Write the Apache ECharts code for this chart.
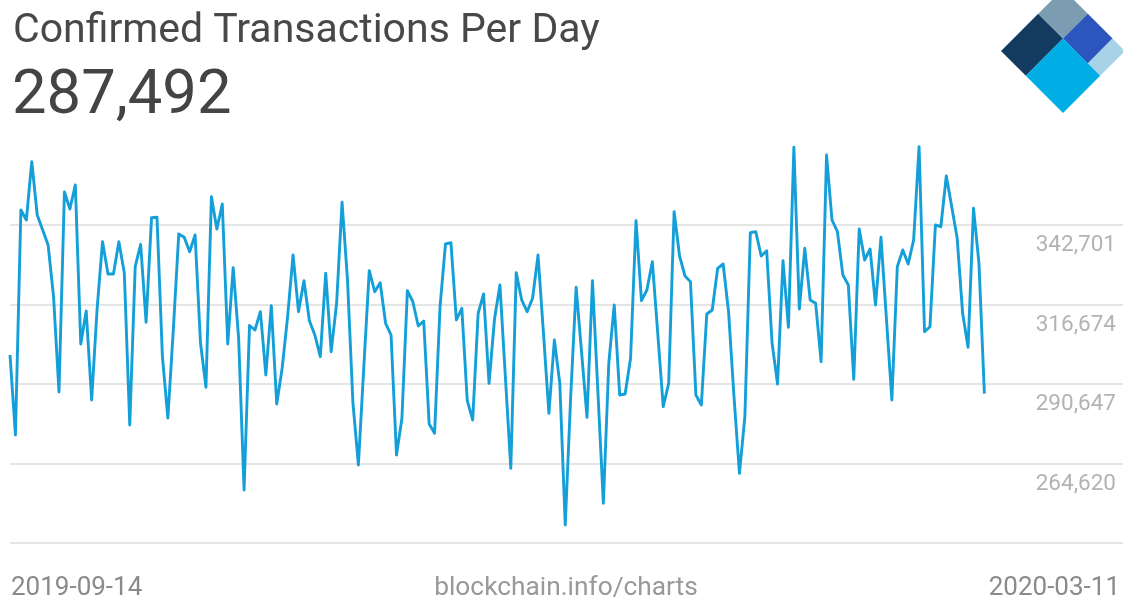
<!DOCTYPE html>
<html>
<head>
<meta charset="utf-8">
<script src="https://cdn.jsdelivr.net/npm/echarts@6/dist/echarts.min.js"></script>
<style>
html,body{margin:0;padding:0;background:#fff;}
#chart{width:1123px;height:601px;}
</style>
</head>
<body>
<div id="chart"></div>
<script>
// ---- Data ----
const titleText = 'Confirmed Transactions Per Day';
const latestValue = '287,492';
const startDate = '2019-09-14';
const endDate = '2020-03-11';
const sourceText = 'blockchain.info/charts';
// daily confirmed transactions, 2019-09-14 .. 2020-03-11 (180 days)
const values = [
  300142, 273951, 347612, 344338, 363424, 345975, 341064, 336153, 319228, 288029,
  353505, 347939, 355796, 303743, 314546, 285409, 315201, 337234, 326659, 326659,
  337234, 326987, 277225, 329049, 336383, 310847, 345091, 345222, 299585, 279517,
  308326, 339755, 338674, 333960, 339427, 303972, 289567, 351966, 341391, 349576,
  303743, 328722, 305609, 255945, 309799, 308326, 314317, 293594, 316281, 284100,
  295886, 312680, 332880, 314317, 324466, 311370, 306689, 299585, 326889, 301222,
  317067, 350133, 324695, 284427, 264130, 296311, 327740, 320865, 323811, 310519,
  306689, 267404, 279418, 321192, 317591, 309636, 311273, 277552, 274507, 315954,
  336481, 336906, 311600, 315430, 285180, 278862, 313793, 320112, 290877, 311829,
  323058, 293037, 263049, 327085, 318147, 314317, 318704, 332880, 307246, 281055,
  305052, 290877, 244487, 286490, 322305, 301026, 279746, 324466, 288029, 251591,
  297424, 316511, 287046, 287374, 299061, 344109, 317918, 321421, 330686, 307017,
  283216, 290877, 347055, 332552, 326005, 324139, 287046, 283773, 313564, 314874,
  328525, 329933, 314317, 286490, 261413, 279942, 340180, 340508, 332552, 334287,
  303972, 290648, 331014, 309210, 368138, 315201, 335073, 318147, 317067, 297948,
  365618, 344338, 340508, 326332, 323058, 292186, 341391, 331243, 334844, 316511,
  338674, 312026, 285409, 329049, 334516, 329933, 337790, 368335, 307770, 309406,
  342701, 342144, 358743, 348692, 338347, 313793, 302662, 348168, 330162, 287492
];
const yGridValues = [238593, 264620, 290647, 316674, 342701];
const yTickLabels = [264620, 290647, 316674, 342701];
const yMin = 238593;
const yMax = 368728;

// ---- Build ----
const DAY = 86400000;
const t0 = Date.UTC(2019, 8, 14);
const seriesData = values.map((v, i) => [t0 + i * DAY, v]);
const xMax = t0 + 204.46 * DAY;

// logo geometry (decoration)
const O = [1063, 51], R = 62;
function P(s, t) {
  return [O[0] - R + R * (s + t), O[1] + R * (t - s)];
}
function quad(s0, s1, ta, tb) {
  return [P(s0, ta), P(s1, ta), P(s1, tb), P(s0, tb)];
}
const logoPieces = [
  {shape: quad(0, 0.6, 0, 0.4), color: '#133b5f'},
  {shape: quad(0.6, 1, 0, 0.4), color: '#7b9cb1'},
  {shape: quad(0.6, 1, 0.4, 0.8), color: '#2c55be'},
  {shape: quad(0.6, 1, 0.8, 1), color: '#a8d3e6'},
  {shape: quad(0, 0.6, 0.4, 1), color: '#00ade5'}
];

const chart = echarts.init(document.getElementById('chart'), null, {renderer: 'canvas'});
const FONT = 'Roboto';
chart.setOption({
  animation: false,
  backgroundColor: '#ffffff',
  title: [
    {text: titleText, left: 8, top: 6,
     textStyle: {fontFamily: FONT, fontSize: 41, fontWeight: 'normal', color: '#484848'}},
    {text: latestValue, left: 7, top: 62,
     textStyle: {fontFamily: FONT, fontSize: 61.5, fontWeight: 'normal', color: '#444444'}}
  ],
  grid: {left: 10, right: 0, top: 145.5, bottom: 58, containLabel: false},
  xAxis: {
    type: 'time', min: t0, max: xMax,
    axisLine: {show: false}, axisTick: {show: false},
    axisLabel: {show: false}, splitLine: {show: false}
  },
  yAxis: {
    type: 'value', position: 'right', min: yMin, max: yMax,
    axisLine: {show: false},
    axisTick: {show: false, customValues: yGridValues},
    axisLabel: {
      inside: true, customValues: yTickLabels, margin: 7,
      verticalAlign: 'top', padding: [9, 0, 0, 0],
      fontFamily: FONT, fontSize: 22.5, color: '#b3b3b3',
      formatter: v => Number(v).toLocaleString('en-US')
    },
    splitLine: {show: true, lineStyle: {color: '#dcdcdc', width: 1.5}}
  },
  series: [{
    type: 'line', data: seriesData, showSymbol: false, symbol: 'none',
    lineStyle: {color: '#149fd8', width: 2.9, join: 'round'},
    itemStyle: {color: '#149fd8'}
  }],
  graphic: [
    ...logoPieces.map(p => ({type: 'polygon', shape: {points: p.shape}, style: {fill: p.color}, z: 10})),
    {type: 'text', left: 11, top: 575, style: {text: startDate, fontFamily: FONT, fontSize: 26, fill: '#8a8a8a'}},
    {type: 'text', right: 3, top: 575, style: {text: endDate, fontFamily: FONT, fontSize: 26, fill: '#8a8a8a'}},
    {type: 'text', x: 566, y: 575, style: {text: sourceText, align: 'center', fontFamily: FONT, fontSize: 26.3, fill: '#999999'}}
  ]
});
</script>
</body>
</html>
